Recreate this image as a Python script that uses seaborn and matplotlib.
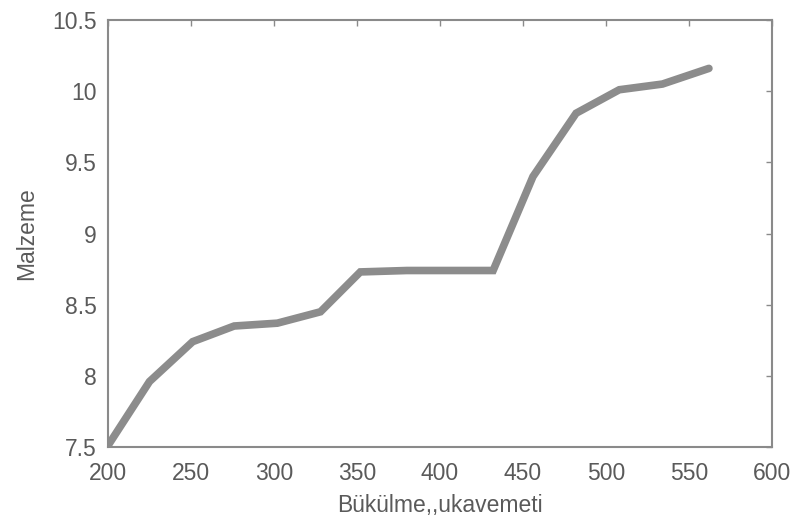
import matplotlib
matplotlib.use("Agg")
import matplotlib.pyplot as plt
import seaborn as sns
import pandas as pd

x_vals = [200, 225, 251, 276, 302, 328, 352, 380, 405, 432, 456, 482, 508, 534, 562]
y_vals = [7.51, 7.96, 8.24, 8.35, 8.37, 8.45, 8.73, 8.74, 8.74, 8.74, 9.40, 9.845, 10.01, 10.05, 10.16]
x_ticks = [200, 250, 300, 350, 400, 450, 500, 550, 600]
y_ticks = [7.5, 8, 8.5, 9, 9.5, 10, 10.5]
y_tick_labels = ["7.5", "8", "8.5", "9", "9.5", "10", "10.5"]
x_label = "Bükülme,,ukavemeti"
y_label = "Malzeme"

sns.set_style("white")
plt.rcParams['font.family'] = ['Liberation Sans', 'DejaVu Sans']

df = pd.DataFrame({"x": x_vals, "y": y_vals})

fig = plt.figure(figsize=(7.98, 5.2), dpi=100)
ax = fig.add_axes([108/798, 1 - 447/520, (772 - 108)/798, (447 - 20)/520])

sns.lineplot(data=df, x="x", y="y", ax=ax, color="#8c8c8c", linewidth=5.5,
             sort=False, estimator=None, solid_joinstyle="miter")

ax.set_xlim(200, 600)
ax.set_ylim(7.5, 10.5)
ax.set_xticks(x_ticks)
ax.set_xticklabels([str(t) for t in x_ticks])
ax.set_yticks(y_ticks)
ax.set_yticklabels(y_tick_labels)

gray_text = "#5a5a5a"
ax.set_xlabel(x_label, fontsize=16.5, color=gray_text, labelpad=6)
ax.set_ylabel(y_label, fontsize=16.5, color=gray_text, labelpad=10)

for s in ax.spines.values():
    s.set_visible(True)
    s.set_color("#8a8a8a")
    s.set_linewidth(1.5)

ax.tick_params(axis="both", direction="in", length=4, width=1, color="#8a8a8a",
               labelsize=16.5, labelcolor=gray_text, top=True, right=True)
ax.tick_params(axis="x", pad=11)
ax.tick_params(axis="y", pad=8)
ax.grid(False)

fig.savefig("out.png", dpi=100, facecolor="white")
